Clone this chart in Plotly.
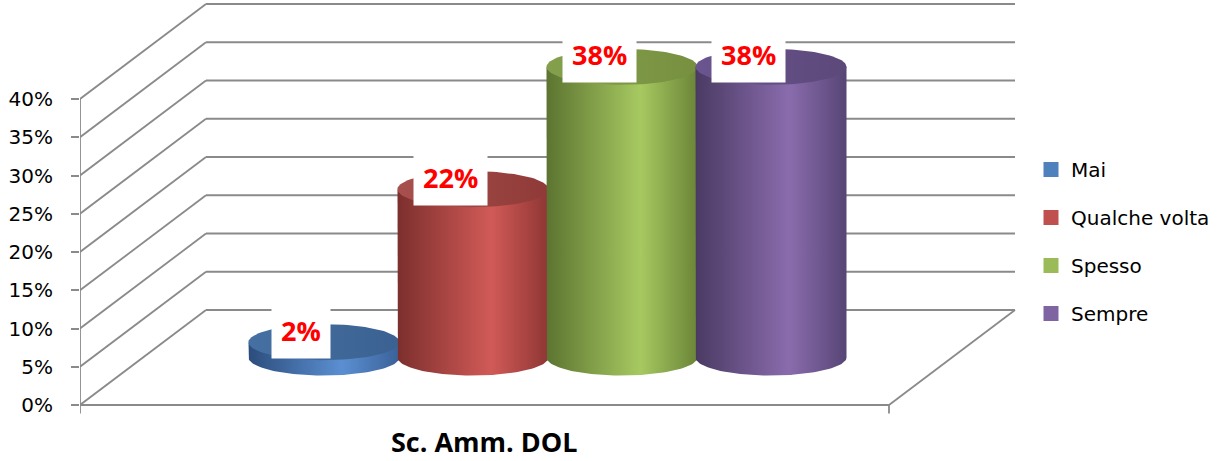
import numpy as np
import plotly.graph_objects as go

# ---------------- data ----------------
category = "Sc. Amm. DOL"
series = ["Mai", "Qualche volta", "Spesso", "Sempre"]
values = [2, 22, 38, 38]            # percent
data_labels = ["2%", "22%", "38%", "38%"]
y_ticks = [0, 5, 10, 15, 20, 25, 30, 35, 40]
y_tick_text = ["0%", "5%", "10%", "15%", "20%", "25%", "30%", "35%", "40%"]

# ---------------- styles ----------------
base_colors = ["#4F81BD", "#C0504D", "#9BBB59", "#8064A2"]
body_scales = [
    [[0, "#2c4d7c"], [0.62, "#5b8fd2"], [1, "#3a6198"]],
    [[0, "#7c2f2d"], [0.62, "#d15a57"], [1, "#8e3634"]],
    [[0, "#5c7430"], [0.62, "#a7c961"], [1, "#6a8537"]],
    [[0, "#4a3a63"], [0.62, "#8a6cad"], [1, "#574575"]],
]
top_scales = [
    [[0, "#4670a3"], [1, "#3a6191"]],
    [[0, "#a8504d"], [1, "#8f3a38"]],
    [[0, "#85a04d"], [1, "#76903f"]],
    [[0, "#6b5590"], [1, "#5c4879"]],
]
grid_color = "#8a8a8a"

# ---------------- geometry (oblique 3-D projection) ----------------
PX_X = 809.0            # pixels per category-axis unit
PX_Y = 7.65             # pixels per percent
DX = 126.0 / PX_X       # depth offset (x units) for full depth
DY = 95.0 / PX_Y        # depth offset (percent units) for full depth
spacing = 149.0 / PX_X
half_w = 75.5 / PX_X
ell_b = 18.0 / PX_Y
depth = 0.5

fig = go.Figure()

# grid / walls
gx, gy = [], []
for t in y_ticks:
    gx += [0, DX, None]
    gy += [t, t + DY, None]
    gx += [DX, 1 + DX, None]
    gy += [t + DY, t + DY, None]
gx += [0, 1, None, 1, 1 + DX, None]
gy += [0, 0, None, 0, DY, None]
gx += [0, 0, None, 1, 1, None]
gy += [y_ticks[-1], -1.1, None, 0, -1.1, None]
fig.add_trace(go.Scatter(x=gx, y=gy, mode="lines",
                         line=dict(color=grid_color, width=1.8),
                         hoverinfo="skip", showlegend=False))

th = np.linspace(0, 2 * np.pi, 121)
lower = np.linspace(np.pi, 2 * np.pi, 61)
n = len(values)
for i, v in enumerate(values):
    cx = 0.5 + (i - (n - 1) / 2) * spacing + depth * DX
    by = depth * DY
    ty = v + depth * DY
    bx = [cx - half_w] + list(cx + half_w * np.cos(lower)) + [cx + half_w, cx - half_w]
    byy = [ty] + list(by + ell_b * np.sin(lower)) + [ty, ty]
    fig.add_trace(go.Scatter(x=bx, y=byy, mode="lines", fill="toself",
                             line=dict(width=0),
                             fillgradient=dict(type="horizontal", colorscale=body_scales[i]),
                             hoverinfo="skip", showlegend=False))
    fig.add_trace(go.Scatter(x=list(cx + half_w * np.cos(th)),
                             y=list(ty + ell_b * np.sin(th)),
                             mode="lines", fill="toself", line=dict(width=0),
                             fillgradient=dict(type="horizontal", colorscale=top_scales[i]),
                             hoverinfo="skip", showlegend=False))
    fig.add_annotation(x=cx - 23.0 / PX_X, y=ty + 12.0 / PX_Y, text=data_labels[i],
                       showarrow=False, bgcolor="white", borderpad=9,
                       font=dict(family="Open Sans", size=27, color="#FF0000", weight="bold"))

for i, s in enumerate(series):
    fig.add_trace(go.Scatter(x=[None], y=[None], mode="markers", name=s,
                             legendgroup=s,
                             marker=dict(symbol="square", size=15, color=base_colors[i])))

fig.add_annotation(x=0.5, y=-36.0 / PX_Y, text=category, showarrow=False,
                   font=dict(family="Open Sans", size=27, color="#000000", weight="bold"))

fig.update_layout(
    width=1232, height=461,
    margin=dict(l=80, r=0, t=0, b=0),
    paper_bgcolor="white", plot_bgcolor="white",
    xaxis=dict(visible=False, range=[0, 1152.0 / PX_X], fixedrange=True),
    yaxis=dict(range=[-56.0 / PX_Y, 405.0 / PX_Y], tickmode="array",
               tickvals=y_ticks, ticktext=y_tick_text,
               showgrid=False, zeroline=False, showline=False,
               ticks="outside", ticklen=8, tickwidth=1.8, tickcolor=grid_color,
               ticklabelstandoff=14,
               tickfont=dict(family="DejaVu Sans", size=20, color="#000000"),
               fixedrange=True),
    legend=dict(x=(1031 - 80) / 1152.0, xanchor="left", y=1 - 150 / 461.0, yanchor="top",
                font=dict(family="DejaVu Sans", size=20, color="#000000"),
                tracegroupgap=19, bgcolor="rgba(0,0,0,0)"),
    showlegend=True,
)

fig.write_html("out.html", config={"displayModeBar": False},
               post_script="document.body.style.margin='0';document.body.style.overflow='hidden';")
